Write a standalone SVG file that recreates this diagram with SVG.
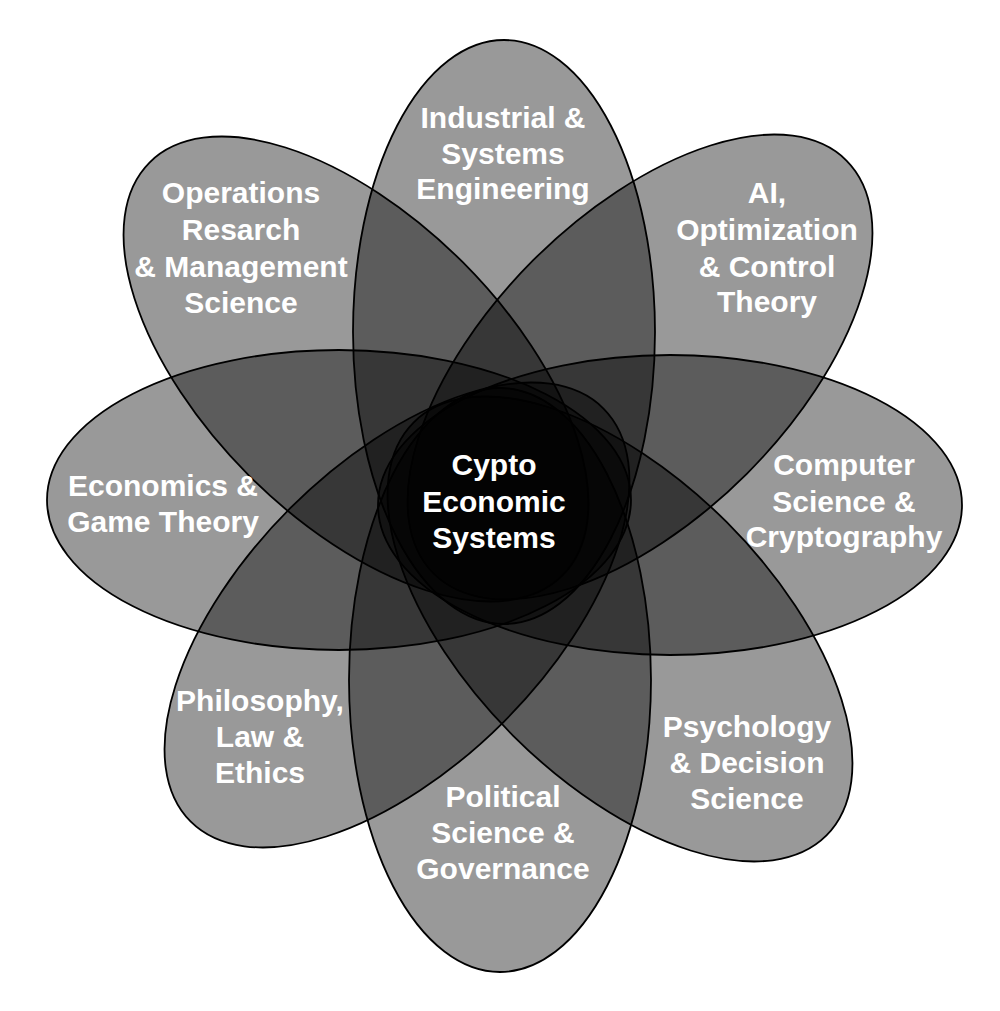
<svg xmlns="http://www.w3.org/2000/svg" width="1000" height="1011" viewBox="0 0 1000 1011">
  <style>
    .petal { fill: #000; fill-opacity: 0.4; stroke: #000; stroke-width: 1.8; }
    .label { font-family: "Liberation Sans", Arial, sans-serif; font-weight: bold; font-size: 30px; fill: #fff; text-anchor: middle; }
  </style>
  <rect x="0" y="0" width="1000" height="1011" fill="#fff"/>

  <!-- petals: eight overlapping ellipses around the shared core -->
  <g id="petals">
    <g id="industrial"><ellipse class="petal" cx="504" cy="332" rx="151" ry="292"/></g>
    <g id="ai-optimization"><ellipse class="petal" cx="0" cy="0" rx="151" ry="292" transform="translate(640 367) rotate(45)"/></g>
    <g id="computer-science"><ellipse class="petal" cx="670" cy="505" rx="292" ry="150"/></g>
    <g id="psychology"><ellipse class="petal" cx="0" cy="0" rx="151" ry="292" transform="translate(620 629) rotate(-45)"/></g>
    <g id="political-science"><ellipse class="petal" cx="500" cy="680" rx="151" ry="292"/></g>
    <g id="philosophy"><ellipse class="petal" cx="0" cy="0" rx="151" ry="292" transform="translate(397 615) rotate(45)"/></g>
    <g id="economics"><ellipse class="petal" cx="339" cy="500" rx="292" ry="150"/></g>
    <g id="operations-research"><ellipse class="petal" cx="0" cy="0" rx="151" ry="292" transform="translate(356 369) rotate(-45)"/></g>
  </g>

  <!-- labels -->
  <g id="labels">
    <text id="label-industrial" class="label"><tspan x="503" y="128">Industrial &amp;</tspan><tspan x="503" y="164">Systems</tspan><tspan x="503" y="199">Engineering</tspan></text>
    <text id="label-ai" class="label"><tspan x="767" y="203">AI,</tspan><tspan x="767" y="240">Optimization</tspan><tspan x="767" y="277">&amp; Control</tspan><tspan x="767" y="312">Theory</tspan></text>
    <text id="label-computer" class="label"><tspan x="844" y="475">Computer</tspan><tspan x="844" y="512">Science &amp;</tspan><tspan x="844" y="547">Cryptography</tspan></text>
    <text id="label-psychology" class="label"><tspan x="747" y="737">Psychology</tspan><tspan x="747" y="773">&amp; Decision</tspan><tspan x="747" y="809">Science</tspan></text>
    <text id="label-political" class="label"><tspan x="503" y="807">Political</tspan><tspan x="503" y="843">Science &amp;</tspan><tspan x="503" y="879">Governance</tspan></text>
    <text id="label-philosophy" class="label"><tspan x="260" y="711">Philosophy,</tspan><tspan x="260" y="747">Law &amp;</tspan><tspan x="260" y="783">Ethics</tspan></text>
    <text id="label-economics" class="label"><tspan x="163" y="496">Economics &amp;</tspan><tspan x="163" y="532">Game Theory</tspan></text>
    <text id="label-operations" class="label"><tspan x="241" y="203">Operations</tspan><tspan x="241" y="240">Resarch</tspan><tspan x="241" y="277">&amp; Management</tspan><tspan x="241" y="313">Science</tspan></text>
    <text id="label-core" class="label"><tspan x="494" y="475">Cypto</tspan><tspan x="494" y="512">Economic</tspan><tspan x="494" y="548">Systems</tspan></text>
  </g>
</svg>
